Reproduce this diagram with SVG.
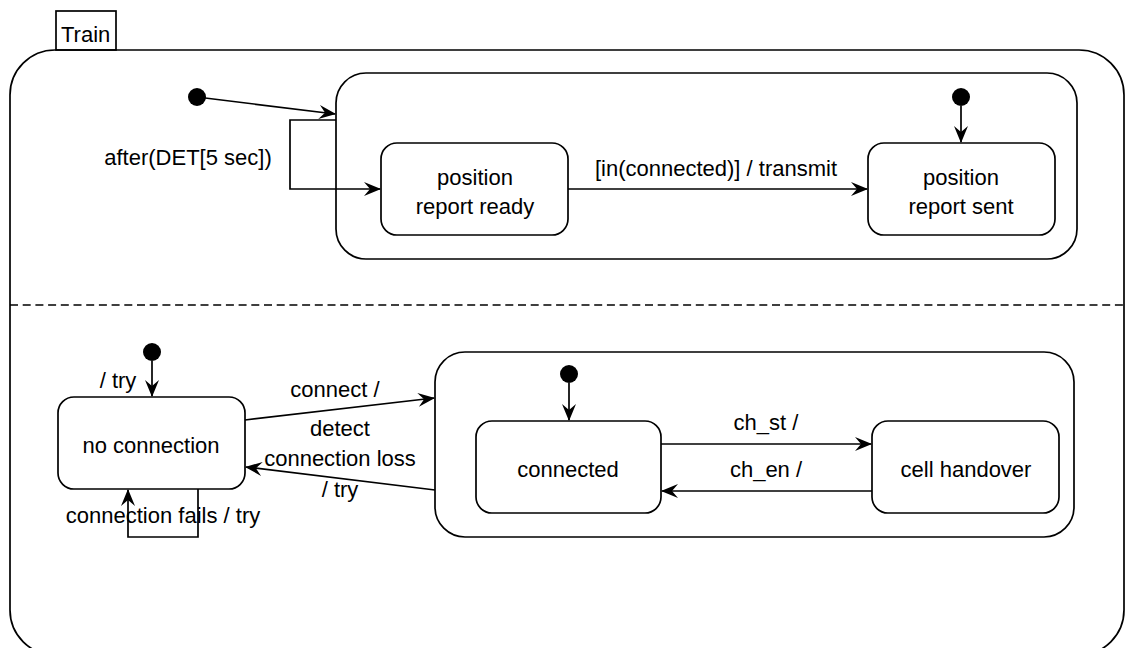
<svg xmlns="http://www.w3.org/2000/svg" width="1125" height="648" viewBox="0 0 1125 648">
<style>
.box{fill:#fff;stroke:#000;stroke-width:1.7}
.frame{fill:none;stroke:#000;stroke-width:1.7}
.ln{fill:none;stroke:#000;stroke-width:1.7}
.dot{fill:#000}
text{font-family:"Liberation Sans",Arial,sans-serif;font-size:22px;fill:#000}
.c{text-anchor:middle}
</style>
<defs>
<marker id="arr" viewBox="0 0 17 14" refX="16" refY="7" markerWidth="17" markerHeight="14" markerUnits="userSpaceOnUse" orient="auto">
<path d="M0,0 L17,7 L0,14 L6,7 z" fill="#000"/>
</marker>
</defs>
<rect width="1125" height="648" fill="#fff"/>
<g id="train">
<rect class="frame" x="10" y="50" width="1114" height="605" rx="45"/>
<rect class="frame" x="56" y="11" width="60" height="39"/>
<text x="61" y="42">Train</text>
<line x1="10" y1="305" x2="1124" y2="305" stroke="#000" stroke-width="1.7" stroke-dasharray="8 4.7"/>
</g>
<g id="upper-region">
<rect class="box" x="336" y="73" width="741" height="186" rx="30"/>
</g>
<g id="position-report-ready">
<rect class="box" x="381" y="143" width="187" height="92" rx="16"/>
<text class="c" x="475" y="185">position</text>
<text class="c" x="475" y="214">report ready</text>
</g>
<g id="position-report-sent">
<rect class="box" x="868" y="143" width="187" height="92" rx="16"/>
<text class="c" x="961" y="185">position</text>
<text class="c" x="961" y="214">report sent</text>
</g>
<g id="init-outer"><circle class="dot" cx="197" cy="97" r="9"/></g>
<g id="init-upper"><circle class="dot" cx="961" cy="97" r="9"/></g>
<g id="lower-region">
<rect class="box" x="435" y="352" width="639" height="185" rx="30"/>
</g>
<g id="no-connection">
<rect class="box" x="58" y="397" width="187" height="92" rx="16"/>
<text class="c" x="151" y="453">no connection</text>
</g>
<g id="connected">
<rect class="box" x="476" y="421" width="185" height="92" rx="16"/>
<text class="c" x="568" y="477">connected</text>
</g>
<g id="cell-handover">
<rect class="box" x="872" y="421" width="187" height="92" rx="16"/>
<text class="c" x="966" y="477">cell handover</text>
</g>
<g id="init-lower-left"><circle class="dot" cx="152" cy="352" r="9"/></g>
<g id="init-lower"><circle class="dot" cx="569" cy="374" r="9"/></g>
<g id="connectors">
<line class="ln" x1="197" y1="97" x2="335" y2="114" marker-end="url(#arr)"/>
<polyline class="ln" points="336,120 290,120 290,189 380,189" marker-end="url(#arr)"/>
<text class="c" x="188" y="165">after(DET[5 sec])</text>
<line class="ln" x1="961" y1="106" x2="961" y2="142" marker-end="url(#arr)"/>
<line class="ln" x1="568" y1="189" x2="867" y2="189" marker-end="url(#arr)"/>
<text class="c" x="716" y="176">[in(connected)] / transmit</text>
<line class="ln" x1="152" y1="361" x2="152" y2="396" marker-end="url(#arr)"/>
<text class="c" x="118" y="388">/ try</text>
<line class="ln" x1="245" y1="420" x2="434" y2="398" marker-end="url(#arr)"/>
<text class="c" x="335" y="397">connect /</text>
<line class="ln" x1="435" y1="490" x2="246" y2="467" marker-end="url(#arr)"/>
<text class="c" x="340" y="436">detect</text>
<text class="c" x="340" y="466">connection loss</text>
<text class="c" x="340" y="497">/ try</text>
<polyline class="ln" points="198,489 198,537 128,537 128,490" marker-end="url(#arr)"/>
<text class="c" x="163" y="523">connection fails / try</text>
<line class="ln" x1="569" y1="383" x2="569" y2="420" marker-end="url(#arr)"/>
<line class="ln" x1="661" y1="444" x2="871" y2="444" marker-end="url(#arr)"/>
<text class="c" x="766" y="430">ch_st /</text>
<line class="ln" x1="872" y1="491" x2="662" y2="491" marker-end="url(#arr)"/>
<text class="c" x="766" y="477">ch_en /</text>
</g>
</svg>
